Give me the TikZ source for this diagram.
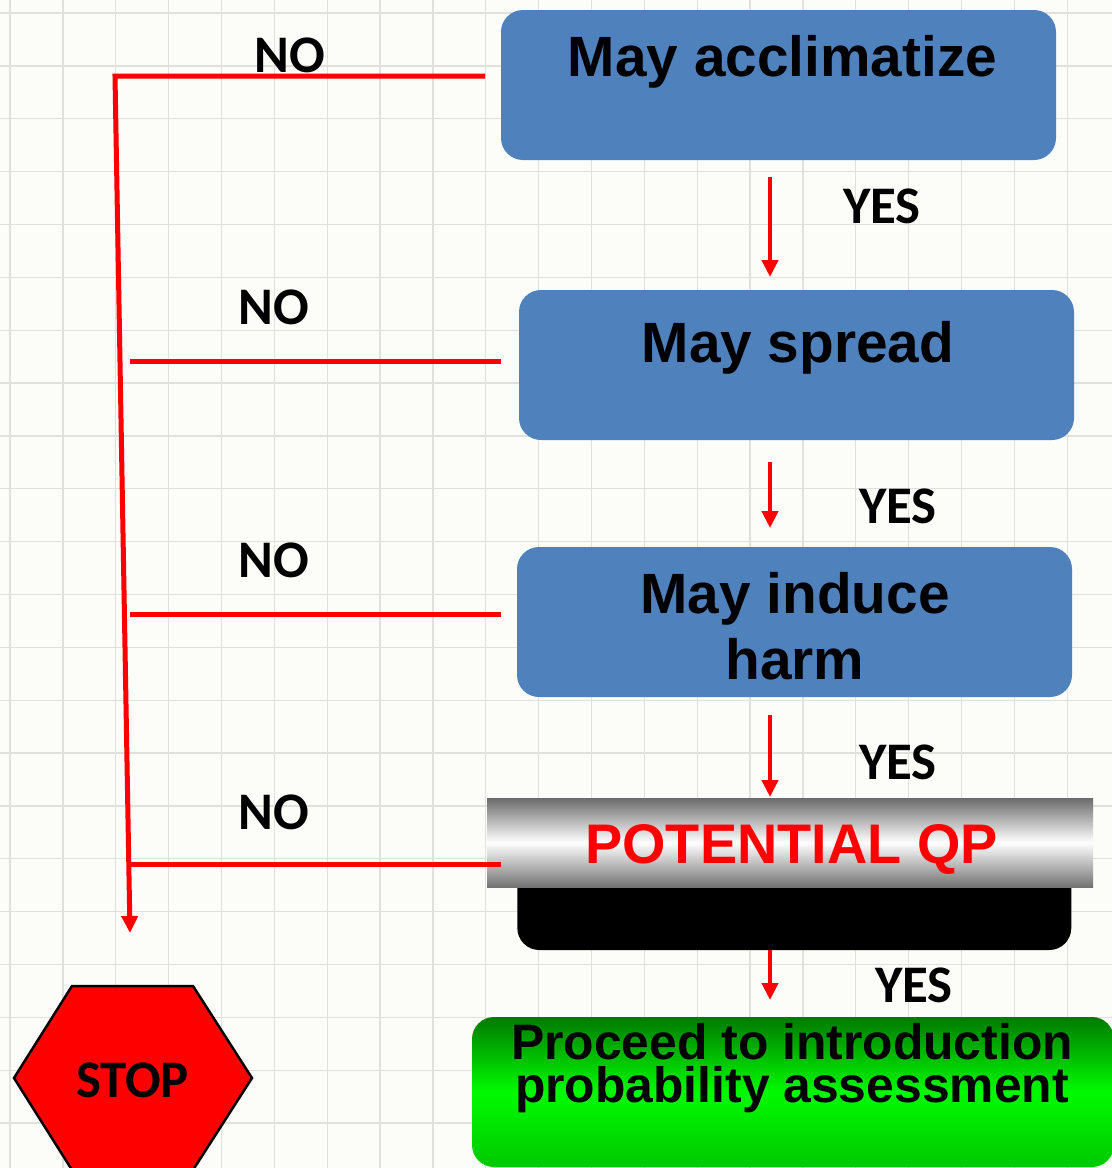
\documentclass[tikz,border=0pt]{standalone}
\usepackage{fontspec}
\setmainfont{Liberation Sans}
\newfontfamily\calfont{Carlito}
\usetikzlibrary{arrows.meta,calc}
\definecolor{bg}{RGB}{252,252,248}
\definecolor{gridc}{RGB}{224,224,220}
\definecolor{boxblue}{RGB}{79,129,189}
\definecolor{gdark}{RGB}{0,122,0}
\definecolor{gbright}{RGB}{0,250,0}
\definecolor{gbottom}{RGB}{0,200,0}
\tikzset{
  gridline/.style={draw=gridc, line width=1.3bp},
  bluebox/.style={rectangle, rounded corners=22bp, fill=boxblue, minimum width=555bp, minimum height=150bp, inner sep=0pt},
  boxtext/.style={font=\bfseries\fontsize{57}{66}\selectfont, anchor=base, inner sep=0pt, align=center},
  lbl/.style={font=\calfont\bfseries\fontsize{53}{60}\selectfont, anchor=base, inner sep=0pt},
  redline/.style={draw=red, line width=5bp},
  yesarrow/.style={draw=red, line width=4.2bp, -{Triangle[width=16bp,length=17bp]}},
}
\begin{document}
\begin{tikzpicture}[x=1bp,y=-1bp]
% background and grid
\fill[bg] (0,0) rectangle (1112,1168);
\useasboundingbox (0,0) rectangle (1112,1168);
\foreach \i in {0,...,21} \draw[gridline] ({10+52.86*\i},0) -- ({10+52.86*\i},1168);
\foreach \j in {0,...,22} \draw[gridline] (0,{13+52.86*\j}) -- (1112,{13+52.86*\j});

% blue boxes
\node[bluebox] (b1) at (778.5,85) {};
\node[bluebox] (b2) at (796.5,365) {};
\node[bluebox] (b3) at (794.5,622) {};
\node[boxtext] (t1) at (782.5,76) {May acclimatize};
\node[boxtext] (t2) at (798,362) {May spread};
\node[boxtext] (t3) at (795,679) {May induce\\harm};

% potential QP
\node[rectangle, rounded corners=22bp, fill=black, minimum width=554bp, minimum height=150bp, inner sep=0pt] (qpbase) at (794.3,875) {};
\node[rectangle, minimum width=606bp, minimum height=89bp, inner sep=0pt,
      top color=black!58, bottom color=black!55, middle color=white] (qp) at (790,842.5) {};
\node[boxtext, font=\bfseries\fontsize{56}{66}\selectfont, text=red] (tqp) at (791.5,863) {POTENTIAL QP};

% green box
\node[rectangle, rounded corners=22bp, minimum width=642bp, minimum height=150bp, inner sep=0pt,
      top color=gdark, bottom color=gbottom, middle color=gbright] (go) at (793,1092) {};
\node[boxtext, font=\bfseries\fontsize{50}{43}\selectfont] (tgo) at (792,1102) {Proceed to introduction\\probability assessment};

% STOP hexagon
\draw[fill=red, draw=black, line width=2.5bp, line join=miter]
  (72,986) -- (193,986) -- (252,1078) -- (193,1170) -- (72,1170) -- (14,1078) -- cycle;
\node[lbl, font=\calfont\bfseries\fontsize{53}{60}\selectfont] (stop) at (132.5,1097) {STOP};

% NO branches
\coordinate (n1a) at (485,76);
\coordinate (corner) at (115,76);
\coordinate (trunkend) at (130,933);
\draw[redline, line join=miter, -{Triangle[width=16bp,length=17bp]}] (n1a) -- (corner) -- (trunkend);
\coordinate (n2a) at (130,361); \coordinate (n2b) at (501,361);
\coordinate (n3a) at (130,614); \coordinate (n3b) at (501,614);
\coordinate (n4a) at (130,864); \coordinate (n4b) at (501,864);
\draw[redline] (n2b) -- (n2a);
\draw[redline] (n3b) -- (n3a);
\draw[redline] (n4b) -- (n4a);

% YES arrows
\coordinate (y1a) at (770,177); \coordinate (y1b) at (770,277);
\coordinate (y2a) at (770,462); \coordinate (y2b) at (770,528);
\coordinate (y3a) at (770,715); \coordinate (y3b) at (770,797);
\coordinate (y4a) at (770,950); \coordinate (y4b) at (770,1000);
\draw[yesarrow] (y1a) -- (y1b);
\draw[yesarrow] (y2a) -- (y2b);
\draw[yesarrow] (y3a) -- (y3b);
\draw[yesarrow] (y4a) -- (y4b);

% labels
\node[lbl] (no1) at (290,72) {NO};
\node[lbl] (no2) at (273.5,324) {NO};
\node[lbl] (no3) at (273.5,577) {NO};
\node[lbl] (no4) at (273.5,829) {NO};
\node[lbl] (yes1) at (882,223) {YES};
\node[lbl] (yes2) at (898,523) {YES};
\node[lbl] (yes3) at (898,779) {YES};
\node[lbl] (yes4) at (914,1002) {YES};
\end{tikzpicture}
\end{document}
